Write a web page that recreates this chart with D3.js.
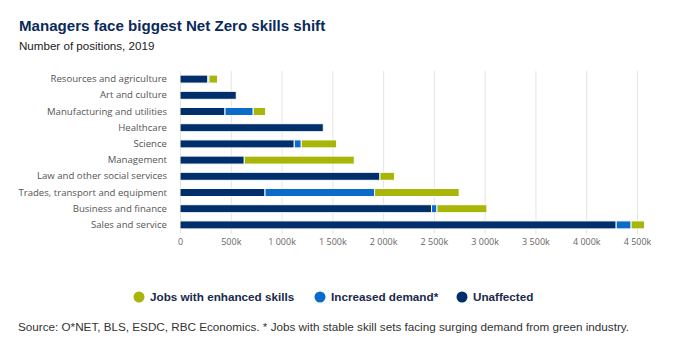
<!DOCTYPE html>
<html><head><meta charset="utf-8">
<script src="https://cdn.jsdelivr.net/npm/d3@7"></script>
<style>
html,body{margin:0;padding:0;background:#fff;}
svg{display:block;}
</style></head>
<body>
<svg id="chart" width="675" height="344"></svg>
<script>
const categories = ["Resources and agriculture","Art and culture","Manufacturing and utilities","Healthcare","Science","Management","Law and other social services","Trades, transport and equipment","Business and finance","Sales and service"];
const unaffected = [275000, 554000, 443000, 1411000, 1125000, 633000, 1969000, 837000, 2477000, 4295000];
const increasedDemand = [10000, 0, 278000, 0, 69000, 0, 0, 1079000, 53000, 147000];
const enhancedSkills = [85000, 0, 122000, 0, 348000, 1083000, 144000, 833000, 492000, 132000];
const seriesNames = ["Unaffected","Increased demand*","Jobs with enhanced skills"];
const seriesColors = ["#002f6c","#0a6cc8","#a8b60a"];
const tickValues = [0,500000,1000000,1500000,2000000,2500000,3000000,3500000,4000000,4500000];
const tickLabels = ["0","500k","1 000k","1 500k","2 000k","2 500k","3 000k","3 500k","4 000k","4 500k"];

const svg = d3.select("#chart");
const rows = categories.map((c,i)=>({cat:c, u:unaffected[i], d:increasedDemand[i], e:enhancedSkills[i]}));
const stack = d3.stack().keys(["u","d","e"])(rows);

const x = d3.scaleLinear().domain([0,4500000]).range([180,637]);
const y = d3.scaleBand().domain(categories).range([71,233]).paddingInner(0.5).paddingOuter(0.25);

// title
svg.append("text").attr("x",19).attr("y",31).attr("font-family","Liberation Sans, Arial, sans-serif")
  .attr("font-weight","bold").attr("font-size",15.1).attr("fill","#0b2a5b")
  .text("Managers face biggest Net Zero skills shift");
svg.append("text").attr("x",19).attr("y",50).attr("font-family","Liberation Sans, Arial, sans-serif")
  .attr("font-size",11.6).attr("fill","#222")
  .text("Number of positions, 2019");

// gridlines
svg.append("g").selectAll("line").data(tickValues).join("line")
  .attr("x1",d=>x(d)+0.5).attr("x2",d=>x(d)+0.5).attr("y1",71).attr("y2",234)
  .attr("stroke","#e4e4e4").attr("stroke-width",1);

// x axis labels
const xAxis = d3.axisBottom(x).tickValues(tickValues).tickFormat((d,i)=>tickLabels[i]).tickSize(0).tickPadding(0);
const gx = svg.append("g").attr("transform","translate(0,239)").call(xAxis);
gx.select(".domain").remove();
gx.selectAll("text").attr("font-family","Open Sans, sans-serif").attr("font-size",9).attr("fill","#666").attr("dy","0.71em");

// y axis labels
const yAxis = d3.axisLeft(y).tickSize(0).tickPadding(0);
const gy = svg.append("g").attr("transform","translate(167,0)").call(yAxis);
gy.select(".domain").remove();
gy.selectAll("text").attr("font-family","Open Sans, sans-serif").attr("font-size",9.6).attr("fill","#555");

// bars
const bh = 8;
svg.append("g").selectAll("g").data(stack).join("g")
  .attr("fill",(d,i)=>seriesColors[i])
  .selectAll("rect").data(d=>d.filter(p=>p[1]-p[0]>0)).join("rect")
  .attr("x",d=>x(d[0])).attr("width",d=>x(d[1])-x(d[0]))
  .attr("y",d=>y(d.data.cat)+y.bandwidth()/2-bh/2).attr("height",bh)
  .attr("stroke","#fff").attr("stroke-width",1);

// legend
const legend = [
  {name:"Jobs with enhanced skills", color:seriesColors[2], cx:139, tx:150},
  {name:"Increased demand*", color:seriesColors[1], cx:320, tx:331},
  {name:"Unaffected", color:seriesColors[0], cx:462, tx:473}
];
const lg = svg.append("g");
lg.selectAll("circle").data(legend).join("circle")
  .attr("cx",d=>d.cx).attr("cy",297).attr("r",5.5).attr("fill",d=>d.color);
lg.selectAll("text").data(legend).join("text")
  .attr("x",d=>d.tx).attr("y",301).attr("font-family","Liberation Sans, Arial, sans-serif")
  .attr("font-weight","bold").attr("font-size",11.7).attr("fill","#1a2a4a").text(d=>d.name);

// source
svg.append("text").attr("x",18).attr("y",331).attr("font-family","Liberation Sans, Arial, sans-serif")
  .attr("font-size",11.7).attr("fill","#333")
  .text("Source: O*NET, BLS, ESDC, RBC Economics. * Jobs with stable skill sets facing surging demand from green industry.");
</script>
</body></html>
